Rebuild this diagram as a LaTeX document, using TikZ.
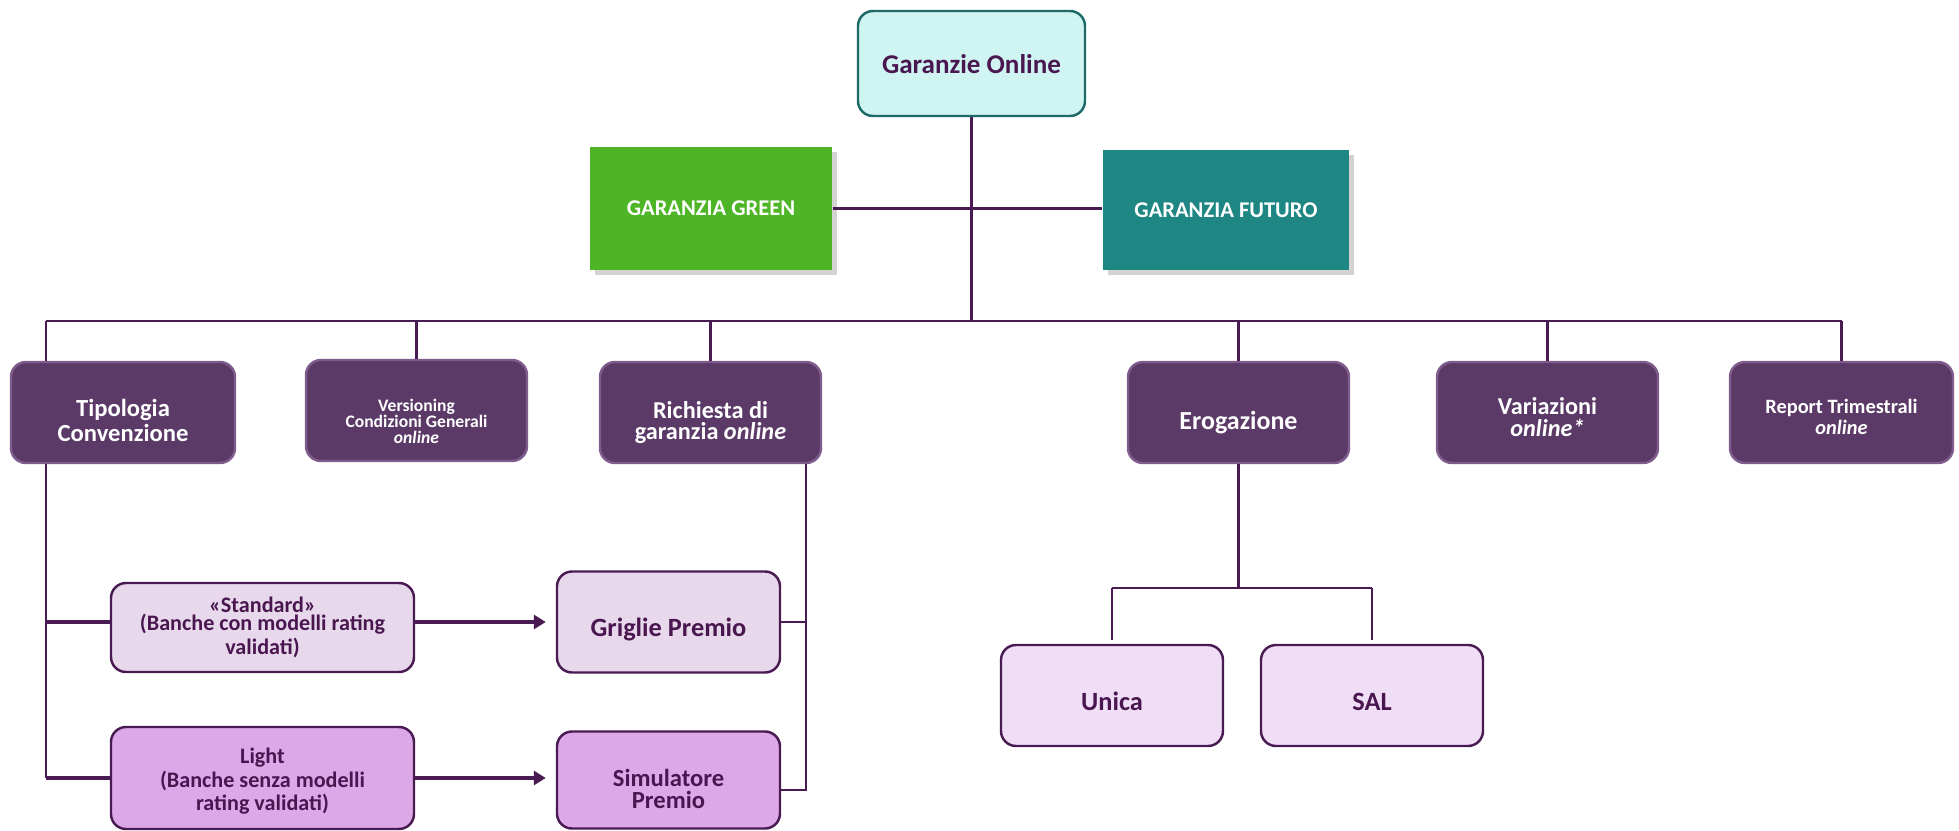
\documentclass[tikz,border=0pt]{standalone}
\usepackage{fontspec}
\setmainfont{Carlito}
\usetikzlibrary{shadows,arrows.meta}

\definecolor{linepurple}{HTML}{4A1A52}
\definecolor{textpurple}{HTML}{4A1650}
\definecolor{rootfill}{HTML}{CFF4F2}
\definecolor{rootborder}{HTML}{1E6A66}
\definecolor{greenfill}{HTML}{4EB527}
\definecolor{futurofill}{HTML}{1E8784}
\definecolor{mainfill}{HTML}{5B3A67}
\definecolor{mainborder}{HTML}{7F5C8D}
\definecolor{stdfill}{HTML}{E7D9EB}
\definecolor{lightfill}{HTML}{DCA8E8}
\definecolor{unicafill}{HTML}{F0DDF6}

% font size / line skip, bold
\newcommand{\fsz}[2]{\fontsize{#1}{#2}\selectfont\bfseries}
% invisible strut that pushes the text block down
\newcommand{\sinktext}[1]{\rule{0pt}{#1}}

\begin{document}
\begin{tikzpicture}[x=1cm,y=1cm,
    box/.style={rounded corners=0.15cm, align=center, inner sep=1pt, line width=0.7pt},
    rootbox/.style={box, draw=rootborder, fill=rootfill, text=textpurple,
        minimum width=2.27cm, minimum height=1.05cm, font=\fsz{7.7}{8}},
    prodbox/.style={align=center, text=white, font=\fsz{6.4}{7},
        drop shadow={shadow xshift=0.05cm, shadow yshift=-0.05cm, opacity=0.35}},
    mainbox/.style={box, draw=mainborder, fill=mainfill, text=white,
        minimum width=2.21cm, minimum height=1.01cm, font=\fsz{7}{5.6}},
    subbox/.style={box, draw=linepurple, text=textpurple,
        minimum width=2.23cm, minimum height=1.01cm, font=\fsz{7.5}{7.5}},
    link/.style={draw=linepurple, line width=0.6pt},
    thicklink/.style={draw=linepurple, line width=1.2pt},
    arrowlink/.style={thicklink, -{Triangle[length=0.12cm,width=0.14cm]}, shorten >=0.1cm}]

    \useasboundingbox (0,0) rectangle (19.59,-8.31);

    % Root
    \node[rootbox] (root) at (9.715,-0.635) {\sinktext{6pt}Garanzie Online};

    % Product lines
    \node[prodbox, fill=greenfill, minimum width=2.42cm, minimum height=1.23cm] (green) at (7.11,-2.085) {GARANZIA GREEN};
    \node[prodbox, fill=futurofill, minimum width=2.46cm, minimum height=1.20cm] (futuro) at (12.26,-2.10) {GARANZIA FUTURO};

    % Level 2
    \node[mainbox, minimum width=2.24cm] (tipo) at (1.23,-4.125) {\sinktext{9.3pt}Tipologia\\Convenzione};
    \node[mainbox, font=\fsz{5}{4.6}] (vers) at (4.165,-4.105) {\sinktext{9.7pt}Versioning\\Condizioni Generali\\\textit{online}};
    \node[mainbox, font=\fsz{6.9}{6.2}] (rich) at (7.105,-4.125) {\sinktext{10.5pt}Richiesta di\\garanzia \textit{online}};
    \node[mainbox, font=\fsz{7.4}{7.4}] (erog) at (12.385,-4.125) {\sinktext{10.7pt}Erogazione};
    \node[mainbox, font=\fsz{6.9}{6.2}] (var) at (15.475,-4.125) {\sinktext{7.5pt}Variazioni\\\textit{online*}};
    \node[mainbox, minimum width=2.23cm, font=\fsz{5.8}{4.6}] (rep) at (18.415,-4.125) {\sinktext{6.8pt}Report Trimestrali\\\textit{online}};

    % Convenzioni and premio
    \node[subbox, fill=stdfill, minimum width=3.03cm, minimum height=0.89cm, font=\fsz{6.3}{5.2}] (std) at (2.625,-6.275) {«Standard»\\(Banche con modelli rating\\validati)};
    \node[subbox, fill=lightfill, minimum width=3.03cm, minimum height=1.02cm, font=\fsz{6.3}{5.2}] (light) at (2.625,-7.78) {\sinktext{6.1pt}Light\\(Banche senza modelli\\rating validati)};
    \node[subbox, fill=stdfill] (grig) at (6.685,-6.22) {\sinktext{9.6pt}Griglie Premio};
    \node[subbox, fill=lightfill, minimum height=0.97cm, font=\fsz{7}{6.2}] (sim) at (6.685,-7.80) {\sinktext{10pt}Simulatore\\Premio};

    % Erogazione types
    \node[subbox, fill=unicafill, minimum width=2.22cm] (unica) at (11.12,-6.955) {\sinktext{8.7pt}Unica};
    \node[subbox, fill=unicafill, minimum width=2.22cm] (sal) at (13.72,-6.955) {\sinktext{8.7pt}SAL};

    % Helper points
    \coordinate (bus) at (9.73,-3.21);
    \coordinate (tipoL) at (0.46,-4.125);
    \coordinate (richR) at (8.06,-4.125);
    \coordinate (simR) at (8.06,-7.90);
    \coordinate (split) at (12.39,-5.88);

    % Tree lines
    \draw[link] (root.south) -- (root.south |- bus);
    \draw[link] (green.east) -- (futuro.west |- green.east);
    \draw[link] (tipoL |- bus) -- (rep.north |- bus);
    \draw[link] (tipoL |- bus) -- (tipoL |- tipo.north);
    \foreach \n in {vers,rich,erog,var,rep} {
        \draw[link] (\n.north |- bus) -- (\n.north);
    }

    % Tipologia branch
    \draw[link] (tipoL |- tipo.south) -- (tipoL |- light.west);
    \draw[thicklink] (tipoL |- grig.west) -- (std.west |- grig.west);
    \draw[thicklink] (tipoL |- light.west) -- (light.west);
    \draw[arrowlink] (std.east |- grig.west) -- (grig.west);
    \draw[arrowlink] (light.east) -- (sim.west |- light.east);

    % Richiesta branch
    \draw[link] (richR |- rich.south) -- (simR) -- (sim.east |- simR);
    \draw[link] (grig.east) -- (richR |- grig.east);

    % Erogazione branch
    \draw[link] (erog.south) -- (erog.south |- split);
    \draw[link] (unica.north |- split) -- (sal.north |- split);
    \draw[link, shorten >=0.04cm] (unica.north |- split) -- (unica.north);
    \draw[link, shorten >=0.04cm] (sal.north |- split) -- (sal.north);

\end{tikzpicture}
\end{document}
